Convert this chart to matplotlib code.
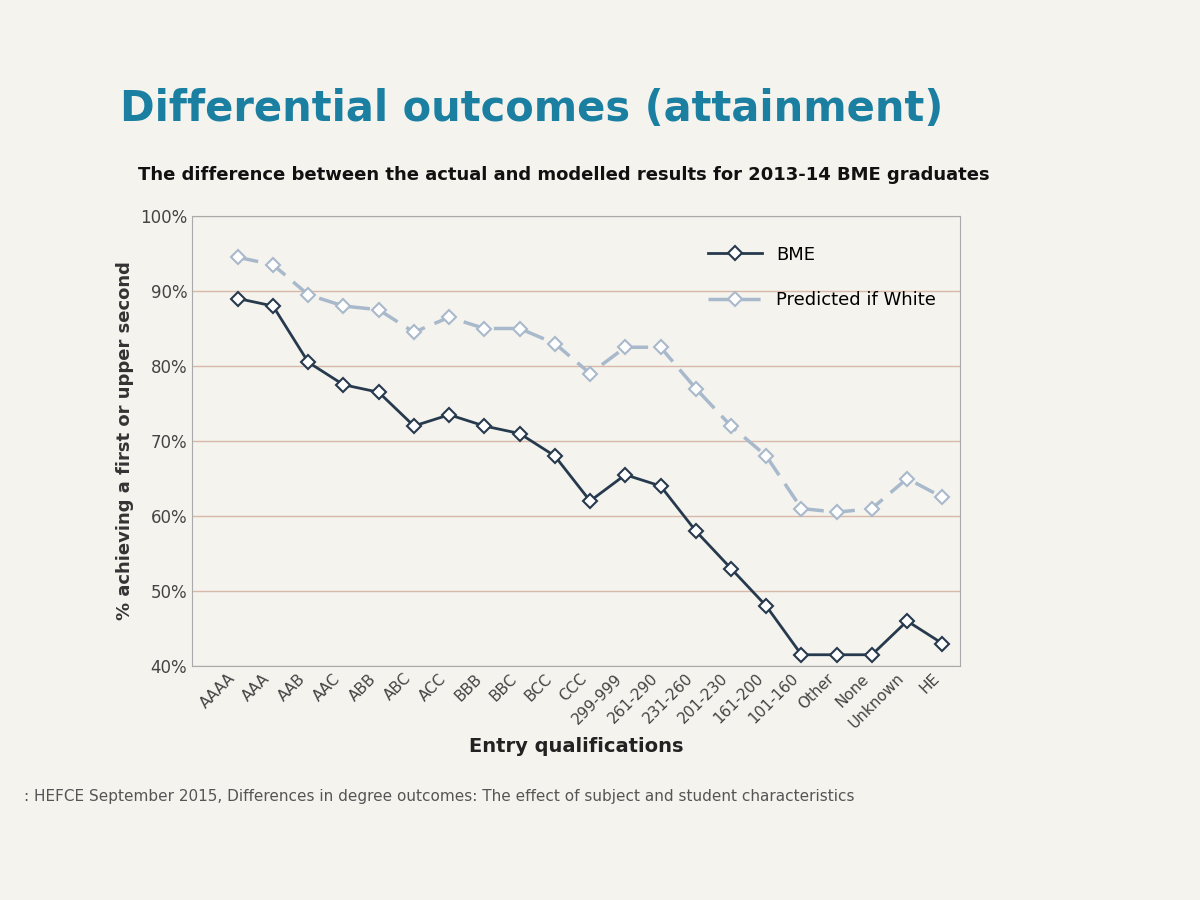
import matplotlib.pyplot as plt

categories = ['AAAA', 'AAA', 'AAB', 'AAC', 'ABB', 'ABC', 'ACC', 'BBB', 'BBC', 'BCC', 'CCC',
              '299-999', '261-290', '231-260', '201-230', '161-200', '101-160',
              'Other', 'None', 'Unknown', 'HE']
bme = [89, 88, 80.5, 77.5, 76.5, 72, 73.5, 72, 71, 68, 62, 65.5, 64, 58, 53, 48,
       41.5, 41.5, 41.5, 46, 43]
predicted = [94.5, 93.5, 89.5, 88, 87.5, 84.5, 86.5, 85, 85, 83, 79, 82.5, 82.5,
             77, 72, 68, 61, 60.5, 61, 65, 62.5]

fig = plt.figure(figsize=(12, 9), dpi=100, facecolor='#f4f3ee')
fig.text(0.1, 0.865, 'Differential outcomes (attainment)', fontsize=30,
         color='#1a7fa0', fontweight='bold')
fig.text(0.115, 0.80, 'The difference between the actual and modelled results for 2013-14 BME graduates',
         fontsize=13, fontweight='bold', color='#111111')
fig.text(0.02, 0.11, ': HEFCE September 2015, Differences in degree outcomes: The effect of subject and student characteristics',
         fontsize=11, color='#555555')

ax = fig.add_axes([0.16, 0.26, 0.64, 0.5])
ax.set_facecolor('#f4f3ee')
x = range(len(categories))
ax.plot(x, bme, color='#26394d', lw=2, marker='D', ms=7, mfc='white',
        mec='#26394d', mew=1.5, label='BME')
ax.plot(x, predicted, color='#a9b9cc', lw=2.5, ls=(0, (6, 3)), marker='D', ms=7,
        mfc='white', mec='#a9b9cc', mew=1.5, label='Predicted if White')
ax.set_ylim(40, 100)
ax.set_xlim(-1.3, len(categories) - 0.5)
ax.set_yticks(range(40, 101, 10))
ax.set_yticklabels([f'{v}%' for v in range(40, 101, 10)], fontsize=12, color='#444444')
ax.set_xticks(list(x))
ax.set_xticklabels(categories, rotation=45, ha='right', fontsize=11, color='#444444')
ax.yaxis.grid(True, color='#d8b8a8', lw=1)
ax.set_axisbelow(True)
for s in ax.spines.values():
    s.set_color('#aaaaaa')
ax.tick_params(length=0)
ax.set_ylabel('% achieving a first or upper second', fontsize=13, fontweight='bold', color='#333333')
ax.set_xlabel('Entry qualifications', fontsize=14, fontweight='bold', color='#222222')
ax.legend(loc='upper right', frameon=False, fontsize=13, handlelength=3,
          labelspacing=1.5, bbox_to_anchor=(0.99, 0.97))

fig.savefig('out.png', facecolor=fig.get_facecolor())
